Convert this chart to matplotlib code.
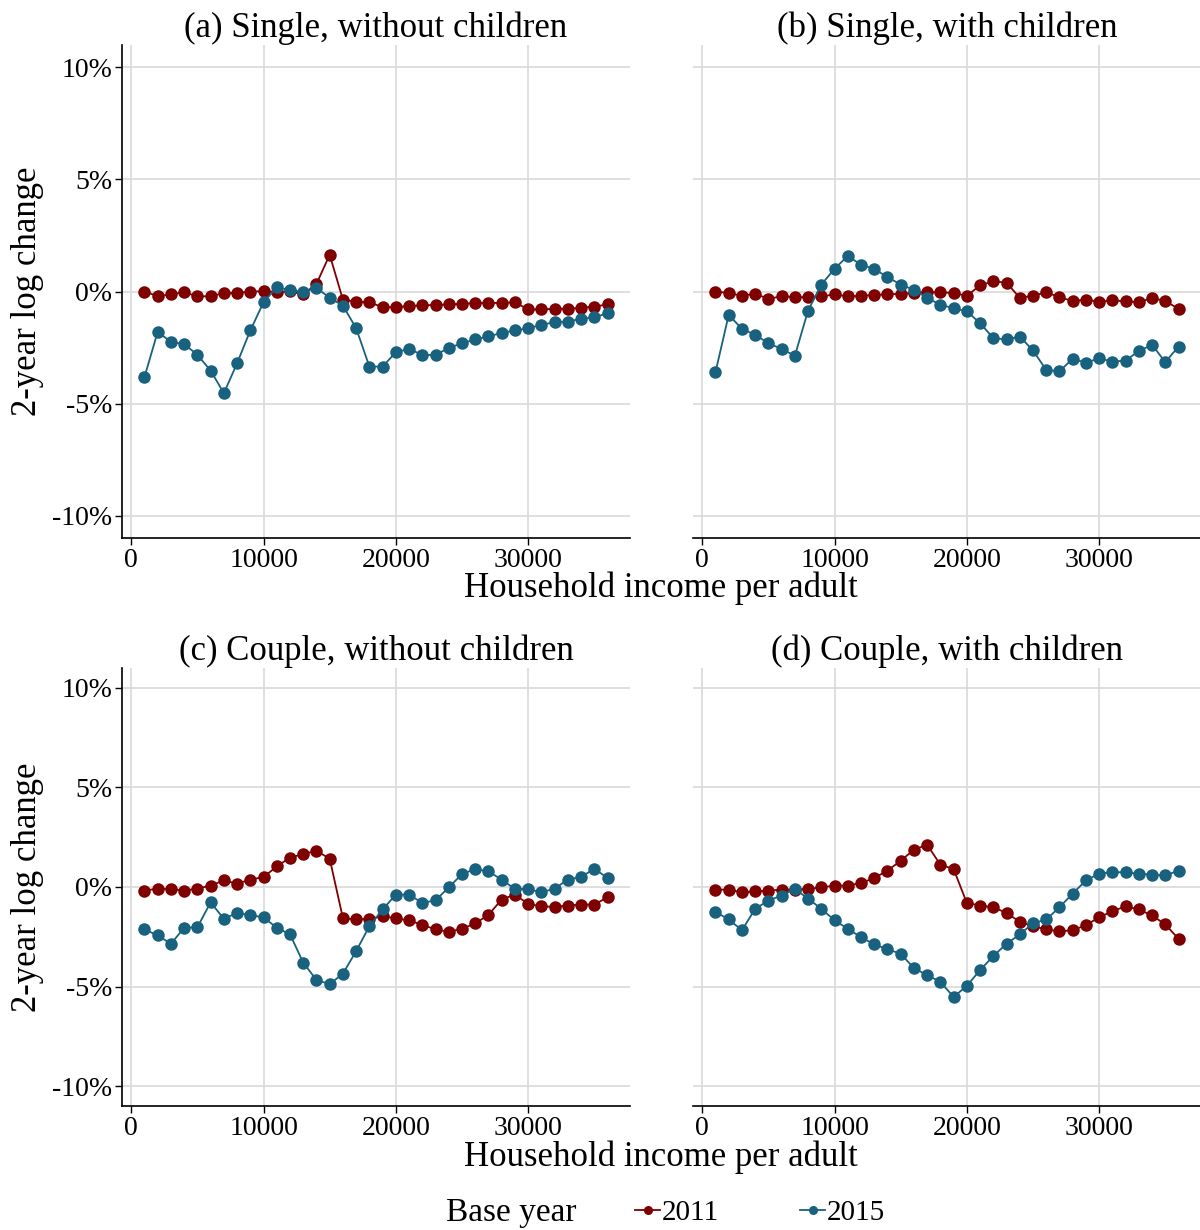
import numpy as np
import matplotlib.pyplot as plt
from matplotlib.lines import Line2D
from matplotlib.ticker import FuncFormatter

plt.rcParams['font.family'] = ['Liberation Serif', 'DejaVu Serif']

# Income per adult (bins of 1000)
income = np.arange(1000, 37000, 1000)

# (a) Single, without children
a_2011 = [0.0, -0.21, -0.13, -0.03, -0.22, -0.21, -0.07, -0.07, 0.0, 0.01, -0.03, 0.01,
          -0.13, 0.34, 1.64, -0.37, -0.45, -0.48, -0.70, -0.70, -0.65, -0.62, -0.60, -0.58,
          -0.55, -0.52, -0.51, -0.51, -0.48, -0.80, -0.80, -0.77, -0.77, -0.73, -0.67, -0.58]
a_2015 = [-3.82, -1.79, -2.26, -2.34, -2.83, -3.53, -4.54, -3.20, -1.74, -0.48, 0.19, 0.07,
          -0.03, 0.16, -0.28, -0.63, -1.64, -3.35, -3.35, -2.71, -2.56, -2.83, -2.83, -2.52,
          -2.31, -2.14, -2.00, -1.85, -1.74, -1.64, -1.49, -1.37, -1.34, -1.22, -1.15, -0.97]

# (b) Single, with children
b_2011 = [0.0, -0.07, -0.19, -0.10, -0.33, -0.21, -0.25, -0.25, -0.22, -0.13, -0.22, -0.19,
          -0.15, -0.13, -0.10, -0.07, -0.03, -0.03, -0.07, -0.19, 0.27, 0.46, 0.39, -0.28,
          -0.19, -0.04, -0.25, -0.43, -0.36, -0.46, -0.40, -0.43, -0.49, -0.28, -0.43, -0.77]
b_2015 = [-3.60, -1.04, -1.67, -1.93, -2.31, -2.56, -2.87, -0.85, 0.31, 1.01, 1.59, 1.19,
          1.01, 0.64, 0.31, 0.07, -0.28, -0.60, -0.74, -0.89, -1.41, -2.08, -2.14, -2.01,
          -2.63, -3.50, -3.56, -3.00, -3.18, -2.98, -3.13, -3.08, -2.66, -2.38, -3.15, -2.46]

# (c) Couple, without children
c_2011 = [-0.18, -0.08, -0.10, -0.18, -0.08, 0.07, 0.33, 0.17, 0.37, 0.50, 1.03, 1.48,
          1.65, 1.82, 1.42, -1.57, -1.63, -1.60, -1.47, -1.57, -1.68, -1.90, -2.13, -2.25,
          -2.10, -1.83, -1.40, -0.63, -0.38, -0.85, -0.97, -1.00, -0.93, -0.88, -0.88, -0.52]
c_2015 = [-2.13, -2.43, -2.85, -2.05, -2.02, -0.77, -1.60, -1.30, -1.42, -1.52, -2.05, -2.38,
          -3.80, -4.67, -4.88, -4.35, -3.22, -1.97, -1.13, -0.38, -0.38, -0.80, -0.67, -0.02,
          0.65, 0.90, 0.78, 0.37, -0.10, -0.10, -0.27, -0.08, 0.37, 0.50, 0.92, 0.45]

# (d) Couple, with children
d_2011 = [-0.13, -0.13, -0.27, -0.22, -0.18, -0.13, -0.13, -0.10, -0.02, 0.07, 0.07, 0.20,
          0.45, 0.82, 1.32, 1.87, 2.12, 1.12, 0.90, -0.80, -0.93, -1.02, -1.30, -1.75,
          -1.97, -2.13, -2.23, -2.17, -1.92, -1.52, -1.22, -0.97, -1.13, -1.43, -1.88, -2.60]
d_2015 = [-1.25, -1.63, -2.17, -1.10, -0.68, -0.43, -0.10, -0.58, -1.10, -1.67, -2.10, -2.52,
          -2.88, -3.13, -3.35, -4.08, -4.42, -4.77, -5.52, -4.97, -4.17, -3.47, -2.85, -2.38,
          -1.83, -1.63, -1.02, -0.33, 0.33, 0.67, 0.75, 0.73, 0.67, 0.62, 0.58, 0.82]

titles = ["(a) Single, without children", "(b) Single, with children",
          "(c) Couple, without children", "(d) Couple, with children"]
series = [(a_2011, a_2015), (b_2011, b_2015), (c_2011, c_2015), (d_2011, d_2015)]
years = ["2011", "2015"]
colors = ["#7f0000", "#18617f"]

W, H = 1200, 1230
fig = plt.figure(figsize=(W / 100, H / 100), dpi=100)

# axes boxes in pixels: left, right, top, bottom
boxes = [(122, 630, 45, 538), (693, 1201, 45, 538),
         (122, 630, 668, 1106), (693, 1201, 668, 1106)]

pct = FuncFormatter(lambda v, p: "{:d}%".format(int(v)))

for i, (box, title, (s11, s15)) in enumerate(zip(boxes, titles, series)):
    l, r, t, b = box
    ax = fig.add_axes([l / W, 1 - b / H, (r - l) / W, (b - t) / H])
    for vals, col in zip((s11, s15), colors):
        ax.plot(income, vals, color=col, lw=1.3, marker='o', markersize=9,
                markeredgewidth=0, zorder=3)
    ax.set_ylim(-11, 11)
    ax.set_xlim(-700, 37700)
    ax.set_yticks([-10, -5, 0, 5, 10])
    ax.set_xticks([0, 10000, 20000, 30000])
    ax.yaxis.set_major_formatter(pct)
    ax.grid(True, color="#d9d9d9", lw=1.2, zorder=0)
    ax.set_axisbelow(True)
    ax.spines['top'].set_visible(False)
    ax.spines['right'].set_visible(False)
    ax.spines['bottom'].set_linewidth(1.2)
    ax.spines['left'].set_linewidth(1.2)
    ax.tick_params(labelsize=20, length=5, width=1.0, pad=2)
    ax.set_title(title, fontsize=25, pad=4)
    if i % 2 == 1:
        ax.spines['left'].set_visible(False)
        ax.tick_params(axis='y', length=0, labelleft=False)
    else:
        ax.set_ylabel("2-year log change", fontsize=25, labelpad=6)

fig.text(661 / W, 1 - 588 / H, "Household income per adult", fontsize=25,
         ha='center', va='center')
fig.text(661 / W, 1 - 1157 / H, "Household income per adult", fontsize=25,
         ha='center', va='center')

fig.text(511 / W, 1 - 1213 / H, "Base year", fontsize=24, ha='center', va='center')
handles = [Line2D([], [], color=c, lw=1.3, marker='o', markersize=6.5,
                  markeredgewidth=0) for c in colors]
fig.legend(handles, years, loc='center', bbox_to_anchor=(760 / W, 1 - 1213 / H),
           ncol=2, frameon=False, fontsize=21, handlelength=0.85,
           handletextpad=0.05, columnspacing=2.8)

fig.savefig("out.png", dpi=100)
